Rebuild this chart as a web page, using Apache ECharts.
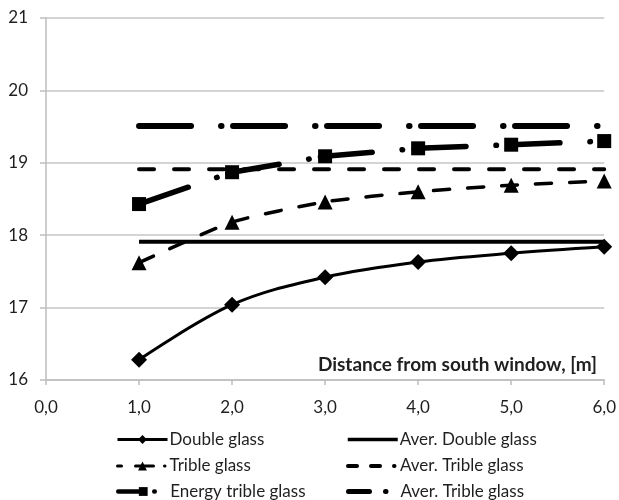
<!DOCTYPE html>
<html>
<head>
<meta charset="utf-8">
<script src="https://cdn.jsdelivr.net/npm/echarts@6/dist/echarts.min.js"></script>
<style>html,body{margin:0;padding:0;background:#fff}#chart{width:619px;height:500px}</style>
</head>
<body>
<div id="chart"></div>
<script>
const categories = [1, 2, 3, 4, 5, 6];
const xTickLabels = ['0,0', '1,0', '2,0', '3,0', '4,0', '5,0', '6,0'];
const yTickLabels = ['16', '17', '18', '19', '20', '21'];
const doubleGlass = [16.28, 17.04, 17.42, 17.63, 17.75, 17.84];
const averDoubleGlass = [17.91, 17.91, 17.91, 17.91, 17.91, 17.91];
const tribleGlass = [17.62, 18.18, 18.46, 18.60, 18.69, 18.75];
const averTribleGlass = [18.91, 18.91, 18.91, 18.91, 18.91, 18.91];
const energyTribleGlass = [18.43, 18.87, 19.09, 19.20, 19.25, 19.30];
const averTribleGlass2 = [19.51, 19.51, 19.51, 19.51, 19.51, 19.51];
const seriesNames = ['Double glass', 'Aver. Double glass', 'Trible glass', 'Aver. Trible glass', 'Energy trible glass', 'Aver. Trible glass '];
const annotation = 'Distance from south window, [m]';

const FONT = 'Lato';
const TXT = '#1f1f1f';
const pts = arr => categories.map((x, i) => [x, arr[i]]);

const chart = echarts.init(document.getElementById('chart'));
const dashDot = [52, 30, 0.5, 11.5];

const legendPos = [[111, 426], [341, 426], [111, 452.5], [341, 452.5], [111, 478], [341, 478]];
const legendLine = [
  { width: 3, type: 'solid' },
  { width: 3.5, type: 'solid' },
  { width: 3, type: [4, 14, 18, 11, 0.5, 10], cap: 'round' },
  { width: 4, type: [9, 14, 9, 14, 0.5, 10], cap: 'round' },
  { width: 4.5, type: [26, 10, 0.5, 20], cap: 'round' },
  { width: 5, type: [21, 16, 0.5, 20], cap: 'round' }
];
const legends = seriesNames.map((n, i) => ({
  orient: 'vertical', left: legendPos[i][0], top: legendPos[i][1],
  itemWidth: 50, itemHeight: 11,
  textStyle: { fontFamily: FONT, fontSize: 17, color: TXT, padding: [0, 0, 0, -3] },
  formatter: s => s.trim(),
  lineStyle: Object.assign({ color: '#000' }, legendLine[i]),
  data: [i % 2 === 1 ? { name: n, itemStyle: { opacity: 0 } } : { name: n }]
}));

chart.setOption({
  animation: false,
  backgroundColor: '#fff',
  grid: { left: 46, right: 12, top: 18, bottom: 120 },
  xAxis: {
    type: 'value', min: 0, max: 6, interval: 1,
    axisLine: { lineStyle: { color: '#bdbdbd', width: 1.5 } },
    axisTick: { show: true, length: 5, lineStyle: { color: '#bdbdbd', width: 1.5 } },
    splitLine: { show: false },
    axisLabel: { margin: 19, fontFamily: FONT, fontSize: 17, color: TXT,
      formatter: v => xTickLabels[Math.round(v)] }
  },
  yAxis: {
    type: 'value', min: 16, max: 21, interval: 1,
    axisLine: { show: true, lineStyle: { color: '#bdbdbd', width: 1.5 } },
    axisTick: { show: true, length: 6, lineStyle: { color: '#bdbdbd', width: 1.5 } },
    splitLine: { show: true, lineStyle: { color: '#c6c6c6', width: 1.5 } },
    axisLabel: { margin: 18, fontFamily: FONT, fontSize: 17, color: TXT,
      formatter: v => yTickLabels[Math.round(v - 16)] }
  },
  legend: legends,
  graphic: [{
    type: 'text', right: 22, top: 355,
    style: { text: annotation, font: 'bold 19px Lato', fill: TXT }
  }],
  series: [
    {
      name: seriesNames[0], type: 'line', data: pts(doubleGlass), smooth: 0.35,
      symbol: 'diamond', symbolSize: 16, showSymbol: true,
      itemStyle: { color: '#000' }, lineStyle: { color: '#000', width: 3 }, z: 2
    },
    {
      name: seriesNames[1], type: 'line', data: pts(averDoubleGlass),
      symbol: 'none', itemStyle: { color: '#000' }, lineStyle: { color: '#000', width: 4 }, z: 2
    },
    {
      name: seriesNames[2], type: 'line', data: pts(tribleGlass), smooth: 0.2,
      symbol: 'triangle', symbolSize: 15,
      itemStyle: { color: '#000' },
      lineStyle: { color: '#000', width: 3.5, type: [16, 18], cap: 'round' }, z: 3
    },
    {
      name: seriesNames[3], type: 'line', data: pts(averTribleGlass),
      symbol: 'none', itemStyle: { color: '#000' },
      lineStyle: { color: '#000', width: 4, type: [15, 20], cap: 'round' }, z: 3
    },
    {
      name: seriesNames[4], type: 'line', data: pts(energyTribleGlass),
      symbol: 'rect', symbolSize: 14,
      itemStyle: { color: '#000' },
      lineStyle: { color: '#000', width: 5.5, type: dashDot, cap: 'round' }, z: 4
    },
    {
      name: seriesNames[5], type: 'line', data: pts(averTribleGlass2),
      symbol: 'none', itemStyle: { color: '#000' },
      lineStyle: { color: '#000', width: 6, type: dashDot, cap: 'round' }, z: 4
    }
  ]
});
</script>
</body>
</html>
